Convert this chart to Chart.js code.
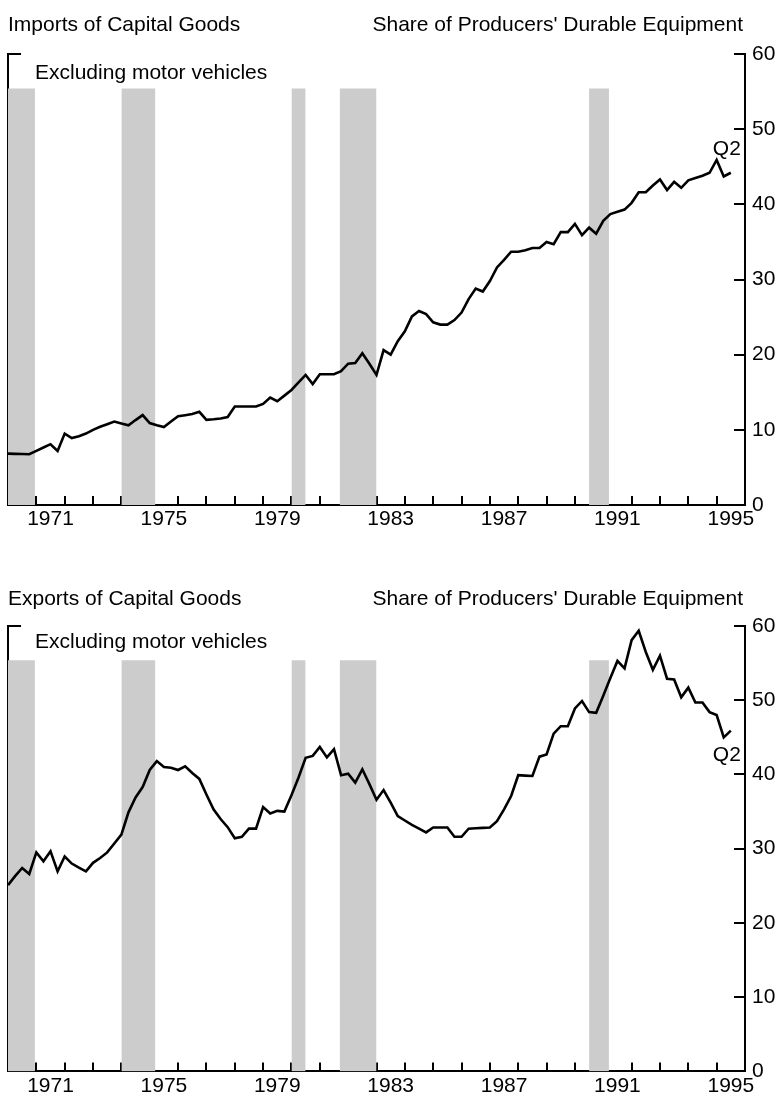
<!DOCTYPE html>
<html>
<head>
<meta charset="utf-8">
<script src="https://cdn.jsdelivr.net/npm/chart.js@4.4.0/dist/chart.umd.min.js"></script>
<style>
  html, body { margin: 0; padding: 0; background: #fff; }
  canvas { position: absolute; left: 0; }
</style>
</head>
<body>
<canvas id="imports" width="779" height="545" style="top:0px"></canvas>
<canvas id="exports" width="779" height="530" style="top:572px"></canvas>
<script>
// quarterly share of producers' durable equipment, 1970 to 1995 Q2
const firstYear = 1970;
const quarterStep = 0.25;

const importShare = [
    6.84, 6.8, 6.78, 6.76, 7.2, 7.65, 8.09, 7.2, 9.5, 8.9,
    9.15, 9.5, 10.0, 10.4, 10.75, 11.1, 10.85, 10.6, 11.3, 11.96,
    10.9, 10.6, 10.36, 11.1, 11.8, 11.95, 12.1, 12.4, 11.33, 11.4,
    11.5, 11.7, 13.1, 13.1, 13.1, 13.1, 13.45, 14.3, 13.8, 14.55,
    15.3, 16.3, 17.3, 16.1, 17.4, 17.4, 17.4, 17.8, 18.8, 18.9,
    20.2, 18.8, 17.3, 20.6, 20.0, 21.8, 23.1, 25.1, 25.8, 25.4,
    24.3, 24.0, 24.0, 24.6, 25.6, 27.4, 28.8, 28.4, 29.8, 31.6,
    32.6, 33.7, 33.7, 33.9, 34.2, 34.2, 35.0, 34.7, 36.3, 36.3,
    37.4, 35.9, 36.9, 36.1, 37.8, 38.7, 39.0, 39.3, 40.2, 41.6,
    41.6, 42.5, 43.3, 41.9, 43.0, 42.2, 43.2, 43.5, 43.8, 44.2,
    45.9, 43.7, 44.2
];

const exportShare = [
    25.1, 26.3, 27.4, 26.6, 29.5, 28.3, 29.65, 26.95, 28.95, 28.0,
    27.45, 26.95, 28.1, 28.75, 29.5, 30.7, 31.9, 34.9, 36.9, 38.3,
    40.6, 41.8, 41.0, 40.9, 40.6, 41.1, 40.2, 39.4, 37.3, 35.3,
    34.0, 32.9, 31.4, 31.6, 32.7, 32.7, 35.6, 34.75, 35.1, 35.0,
    37.2, 39.6, 42.25, 42.5, 43.7, 42.3, 43.4, 39.9, 40.1, 38.9,
    40.7, 38.7, 36.6, 37.9, 36.2, 34.4, 33.8, 33.2, 32.7, 32.2,
    32.85, 32.85, 32.85, 31.6, 31.6, 32.7, 32.75, 32.8, 32.85, 33.7,
    35.3, 37.1, 39.9, 39.85, 39.8, 42.4, 42.7, 45.5, 46.5, 46.5,
    48.9, 49.9, 48.4, 48.3, 50.6, 53.0, 55.3, 54.3, 58.1, 59.35,
    56.5, 54.1, 56.0, 52.9, 52.8, 50.4, 51.7, 49.7, 49.7, 48.4,
    48.0, 45.0, 45.9
];

// recessions (shaded)
const recessionStart = [1970.0, 1974.0, 1980.0, 1981.7, 1990.5];
const recessionEnd   = [1970.95, 1975.2, 1980.5, 1983.0, 1991.2];
const shadeTop = 55.4;

const yearTicks = [];
for (let y = 1970; y <= 1996; y++) yearTicks.push(y);
const yearLabels = [1971, 1975, 1979, 1983, 1987, 1991, 1995];

Chart.defaults.font.family = "'Liberation Sans', Arial, Helvetica, sans-serif";
Chart.defaults.font.size = 21;
Chart.defaults.color = '#000';

const notesPlugin = {
    id: 'notes',
    afterDraw(chart, args, opts) {
        const ctx = chart.ctx;
        const area = chart.chartArea;
        ctx.save();
        ctx.fillStyle = '#000';
        ctx.font = "21px 'Liberation Sans', Arial, Helvetica, sans-serif";
        ctx.textBaseline = 'alphabetic';
        ctx.textAlign = 'left';
        ctx.fillText(opts.title, area.left, opts.titleY);
        ctx.fillText(opts.note, area.left + 27, area.top + opts.noteDy);
        ctx.textAlign = 'right';
        ctx.fillText(opts.unit, area.right - 2, opts.titleY);
        // label next to the last quarter
        const pts = chart.data.datasets[0].data;
        const last = pts[pts.length - 1];
        const px = chart.scales.x.getPixelForValue(last.x);
        const py = chart.scales.y.getPixelForValue(last.y);
        ctx.textAlign = 'left';
        ctx.fillText(opts.lastLabel, px - 18, py + opts.lastDy);
        ctx.restore();
    }
};

function makeChart(id, values, notes) {
    const canvas = document.getElementById(id);
    const h = canvas.height;
    const series = values.map((v, i) => ({ x: firstYear + i * quarterStep, y: v }));

    const shades = recessionStart.map((s, k) => ({
        data: [
            { x: s, y: 0 }, { x: s, y: shadeTop },
            { x: recessionEnd[k], y: shadeTop }, { x: recessionEnd[k], y: 0 }
        ],
        borderWidth: 0,
        pointRadius: 0,
        fill: 'origin',
        backgroundColor: '#cccccc',
        order: 2
    }));

    return new Chart(canvas, {
        type: 'line',
        data: {
            datasets: [{
                label: notes.title,
                data: series,
                borderColor: '#000',
                borderWidth: 2.6,
                pointRadius: 0,
                tension: 0,
                fill: false,
                order: 1
            }].concat(shades)
        },
        options: {
            responsive: false,
            animation: false,
            devicePixelRatio: 1,
            layout: { padding: { top: 54, left: 0, right: 0, bottom: 0 } },
            plugins: {
                legend: { display: false },
                tooltip: { enabled: false },
                notes: notes
            },
            scales: {
                x: {
                    type: 'linear', position: 'bottom', min: 1970, max: 1996, weight: 0, z: 1,
                    afterBuildTicks: s => { s.ticks = yearTicks.map(v => ({ value: v })); },
                    ticks: { display: false },
                    grid: { drawOnChartArea: false, drawTicks: true, tickLength: -9, color: '#000', lineWidth: 2 },
                    border: { display: true, color: '#000', width: 2 },
                    afterFit: s => { s.height = 0; }
                },
                xl: {
                    type: 'linear', position: 'bottom', min: 1970, max: 1996, weight: 1,
                    afterBuildTicks: s => { s.ticks = yearLabels.map(v => ({ value: v + 0.5 })); },
                    ticks: { callback: v => String(v - 0.5), padding: 2, maxRotation: 0, autoSkip: false },
                    grid: { display: false, drawTicks: false },
                    border: { display: false },
                    afterFit: s => { s.height = h - 505; }
                },
                y: {
                    type: 'linear', position: 'right', min: 0, max: 60, z: 1,
                    ticks: { stepSize: 10, padding: 18, crossAlign: 'near' },
                    grid: { drawOnChartArea: false, tickLength: -11, color: '#000', lineWidth: 2 },
                    border: { color: '#000', width: 2 },
                    afterFit: s => { s.width = 779 - 745; }
                },
                yl: {
                    type: 'linear', position: 'left', min: 0, max: 60, z: 1,
                    afterBuildTicks: s => { s.ticks = [{ value: 0 }, { value: 60 }]; },
                    ticks: { display: false },
                    grid: { drawOnChartArea: false, tickLength: -13, color: '#000', lineWidth: 2 },
                    border: { color: '#000', width: 2 },
                    afterFit: s => { s.width = 8; }
                }
            }
        },
        plugins: [notesPlugin]
    });
}

makeChart('imports', importShare, {
    title: 'Imports of Capital Goods',
    unit: "Share of Producers' Durable Equipment",
    titleY: 31,
    note: 'Excluding motor vehicles',
    noteDy: 25,
    lastLabel: 'Q2',
    lastDy: -18
});

makeChart('exports', exportShare, {
    title: 'Exports of Capital Goods',
    unit: "Share of Producers' Durable Equipment",
    titleY: 33,
    note: 'Excluding motor vehicles',
    noteDy: 22,
    lastLabel: 'Q2',
    lastDy: 30
});
</script>
</body>
</html>
